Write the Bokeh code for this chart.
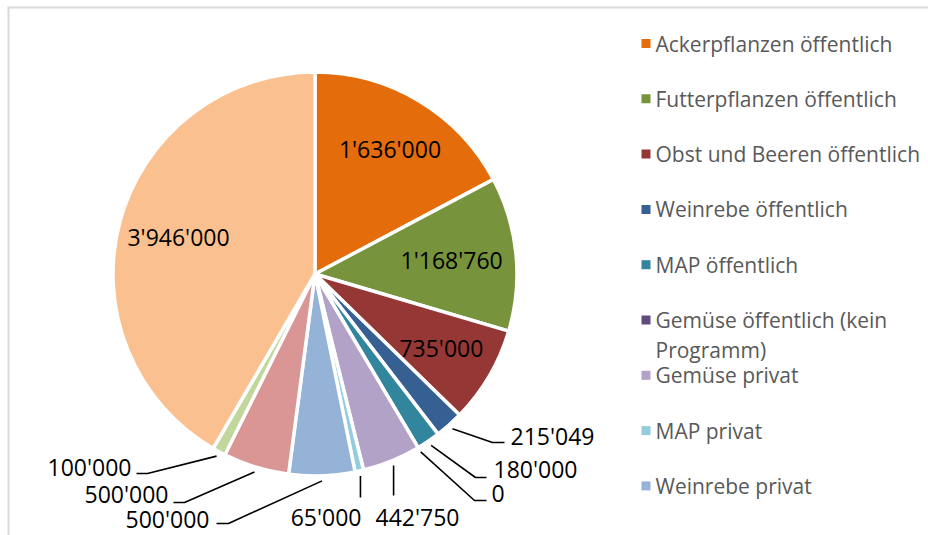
import math
from bokeh.plotting import figure
from bokeh.models import ColumnDataSource, Range1d
from bokeh.embed import file_html
from bokeh.resources import INLINE
from bokeh.core.properties import value

# ---------------- data ----------------
categories = [
    "Ackerpflanzen öffentlich",
    "Futterpflanzen öffentlich",
    "Obst und Beeren öffentlich",
    "Weinrebe öffentlich",
    "MAP öffentlich",
    "Gemüse öffentlich (kein\nProgramm)",
    "Gemüse privat",
    "MAP privat",
    "Weinrebe privat",
    "Obst und Beeren privat",
    "Futterpflanzen privat",
    "Ackerpflanzen privat",
]
values = [1636000, 1168760, 735000, 215049, 180000, 0, 442750, 65000, 500000, 500000, 100000, 3946000]
value_labels = ["1'636'000", "1'168'760", "735'000", "215'049", "180'000", "0",
                "442'750", "65'000", "500'000", "500'000", "100'000", "3'946'000"]
colors = ["#E46C0A", "#77933C", "#953735", "#376092", "#31859C", "#604A7B",
          "#B3A2C7", "#93CDDD", "#95B3D7", "#D99694", "#C3D69B", "#FAC090"]
legend_count = 9  # legend is cut off after the ninth entry in the original

# ---------------- layout ----------------
W, H = 928, 535
def X(sx):  # screen x -> data x
    return sx
def Y(sy):  # screen y -> data y
    return H - sy

CX, CY, R = X(314.5), Y(273.5), 202
FONT = value("Open Sans")

p = figure(width=W, height=H, x_range=Range1d(0, W), y_range=Range1d(0, H),
           output_backend="svg", toolbar_location=None, min_border=0)
p.axis.visible = False
p.grid.visible = False
p.outline_line_color = None
p.background_fill_color = "white"
p.border_fill_color = "white"

# chart frame (top and left visible)
p.line(x=[X(7), X(928)], y=[Y(7), Y(7)], line_color="#D9D9D9", line_width=2)
p.line(x=[X(8), X(8)], y=[Y(7), Y(535)], line_color="#D9D9D9", line_width=2)

# ---------------- pie ----------------
total = float(sum(values))
cum = 0.0
starts, ends, mids = [], [], []
for v in values:
    f0 = cum / total
    cum += v
    f1 = cum / total
    starts.append(math.pi / 2 - 2 * math.pi * f0)
    ends.append(math.pi / 2 - 2 * math.pi * f1)
    mids.append(math.pi / 2 - math.pi * (f0 + f1))

idx = [i for i, v in enumerate(values) if v > 0]
wsrc = ColumnDataSource(dict(
    start=[starts[i] for i in idx], end=[ends[i] for i in idx],
    color=[colors[i] for i in idx]))
p.wedge(x=CX, y=CY, radius=R, start_angle="start", end_angle="end",
        direction="clock", fill_color="color", line_color="white",
        line_width=3.5, source=wsrc)

# ---------------- inside labels ----------------
inside = {0: 0.72, 1: 0.68, 2: 0.725, 11: 0.70}
ix, iy, it = [], [], []
for i, frac in inside.items():
    ix.append(CX + frac * R * math.cos(mids[i]))
    iy.append(CY + frac * R * math.sin(mids[i]))
    it.append(value_labels[i])
p.text(x=ix, y=iy, text=it, text_font=FONT, text_font_size="23px",
       text_color="black", text_align="center", text_baseline="middle")

# ---------------- outside labels with leader lines ----------------
# per label: text anchor (screen), alignment, elbow (screen), end (screen)
outside = {
    3: dict(t=(510, 435), a="left", el=(492, 442), en=(504, 442)),
    4: dict(t=(493, 468), a="left", el=(475, 477), en=(486, 477)),
    5: dict(t=(491, 493), a="left", el=(474, 500), en=(486, 500)),
    6: dict(t=(417, 516), a="center", el=None, en=(None, 495)),
    7: dict(t=(361, 516), a="right", el=None, en=(None, 497)),
    8: dict(t=(209, 518), a="right", el=(228, 523), en=(216, 523)),
    9: dict(t=(168, 493), a="right", el=(184, 502), en=(173, 502)),
    10: dict(t=(131, 466), a="right", el=(147, 473), en=(136, 473)),
}
lxs, lys = [], []
tx, ty, tt, ta = [], [], [], []
for i, o in outside.items():
    sx0 = CX + (R + 5) * math.cos(mids[i])
    sy0 = CY + (R + 5) * math.sin(mids[i])
    if o["el"] is None:
        xs = [sx0, sx0]
        ys = [sy0, Y(o["en"][1])]
    else:
        xs = [sx0, X(o["el"][0]), X(o["en"][0])]
        ys = [sy0, Y(o["el"][1]), Y(o["en"][1])]
    lxs.append(xs)
    lys.append(ys)
    tx.append(X(o["t"][0]))
    ty.append(Y(o["t"][1]))
    tt.append(value_labels[i])
    ta.append(o["a"])
p.multi_line(xs=lxs, ys=lys, line_color="black", line_width=1.6)
tsrc = ColumnDataSource(dict(x=tx, y=ty, text=tt, align=ta))
p.text(x="x", y="y", text="text", text_align="align", text_font=FONT,
       text_font_size="23px", text_color="black", text_baseline="middle",
       source=tsrc)

# ---------------- legend ----------------
LEG_TOP, LEG_STEP, LINE_H = 43, 55.3, 30
mx, my, mc = [], [], []
lx, ly, lt = [], [], []
for k in range(legend_count):
    yc = LEG_TOP + k * LEG_STEP
    mx.append(X(645.5))
    my.append(Y(yc))
    mc.append(colors[k])
    for j, line in enumerate(categories[k].split("\n")):
        lx.append(X(655))
        ly.append(Y(yc + j * LINE_H))
        lt.append(line)
p.scatter(x=mx, y=my, marker="square", size=9, fill_color=mc, line_color=None)
p.text(x=lx, y=ly, text=lt, text_font=FONT, text_font_size="21px",
       text_color="#595959", text_align="left", text_baseline="middle")

open("out.html", "w").write(file_html(p, INLINE))
